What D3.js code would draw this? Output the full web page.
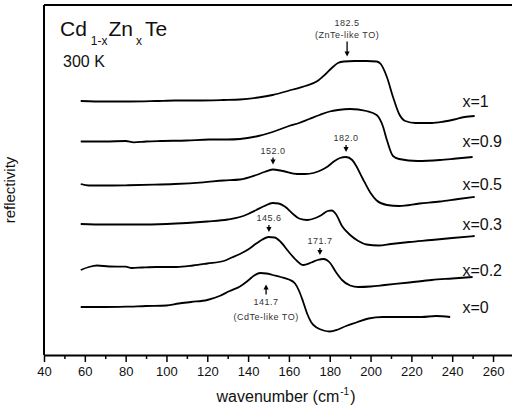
<!DOCTYPE html>
<html>
<head>
<meta charset="utf-8">
<script src="https://cdn.jsdelivr.net/npm/d3@7"></script>
<style>
  html, body { margin: 0; padding: 0; background: #fff; }
  svg { display: block; font-family: "Liberation Sans", Arial, sans-serif; }
</style>
</head>
<body>
<svg id="chart" width="512" height="409"></svg>
<script>
// Reflectivity spectra of Cd(1-x)Zn(x)Te at 300 K, curves stacked with vertical offsets (a.u.)
const seriesNames = ["x=1", "x=0.9", "x=0.5", "x=0.3", "x=0.2", "x=0"];

const wn_x1   = [58,70,82,95,104,115,128,136,145,152,162,168,174,178,181,184,187,192,198,203,205,208,211,214,217,222,230,236,241,246,251];
const refl_x1 = [5.08,5.07,5.07,5.08,5.09,5.09,5.10,5.11,5.15,5.20,5.31,5.38,5.48,5.62,5.74,5.84,5.87,5.88,5.88,5.87,5.82,5.56,5.16,4.82,4.68,4.64,4.64,4.67,4.71,4.76,4.78];

const wn_x09   = [58,70,80,84,90,97,110,121,130,136,145,152,160,165,170,175,180,184,190,198,203,206,208,211,214,223,234,242,250];
const refl_x09 = [4.27,4.27,4.28,4.254,4.27,4.28,4.29,4.31,4.31,4.32,4.38,4.46,4.58,4.64,4.72,4.80,4.87,4.90,4.92,4.88,4.80,4.58,4.30,3.98,3.92,3.88,3.90,3.93,3.96];

const wn_x05   = [58,62,70,80,94,104,118,128,136,144,148,152,157,164,168,172,176,179,182,185,188,191,193,196,200,203,208,214,224,234,243,251];
const refl_x05 = [3.42,3.39,3.39,3.394,3.406,3.42,3.454,3.49,3.51,3.60,3.66,3.71,3.68,3.62,3.62,3.64,3.70,3.77,3.87,3.94,3.96,3.90,3.78,3.54,3.24,3.09,3.00,2.98,3.03,3.07,3.12,3.16];

const wn_x03   = [58,70,85,100,110,120,130,136,140,144,148,152,155,158,162,165,169,173,176,179,181,183,186,190,194,198,204,210,219,230,240,251];
const refl_x03 = [2.62,2.61,2.61,2.62,2.64,2.67,2.71,2.76,2.82,2.90,2.98,3.04,3.03,2.97,2.82,2.73,2.70,2.74,2.80,2.88,2.89,2.82,2.58,2.40,2.28,2.21,2.19,2.22,2.26,2.30,2.34,2.38];

const wn_x02   = [58,62,66,72,80,83,88,95,105,113,120,128,132,136,140,144,147,150,153,156,160,164,167,171,174,177,180,183,186,190,194,200,207,219,230,240,250];
const refl_x02 = [1.70,1.76,1.79,1.77,1.766,1.74,1.75,1.76,1.76,1.79,1.83,1.88,1.95,2.02,2.11,2.23,2.31,2.36,2.35,2.26,2.06,1.88,1.80,1.85,1.90,1.92,1.85,1.66,1.50,1.39,1.36,1.37,1.40,1.45,1.50,1.53,1.56];

const wn_x0   = [58,70,80,90,100,106,112,120,126,131,136,140,143,146,149,152,156,160,163,165,167,169,171,174,177,180,184,188,193,199,206,215,225,232,239];
const refl_x0 = [0.96,0.96,0.966,0.98,0.99,1.03,1.06,1.10,1.18,1.28,1.37,1.49,1.59,1.64,1.63,1.60,1.56,1.51,1.43,1.28,1.06,0.82,0.65,0.54,0.49,0.47,0.51,0.58,0.65,0.73,0.76,0.76,0.76,0.78,0.76];

const wavenumbers = [wn_x1, wn_x09, wn_x05, wn_x03, wn_x02, wn_x0];
const reflectivity = [refl_x1, refl_x09, refl_x05, refl_x03, refl_x02, refl_x0];

// Phonon mode annotations: curve, arrow position (cm^-1), label lines, arrow direction
const peakSeries = ["x=1", "x=0.5", "x=0.5", "x=0.2", "x=0.2", "x=0"];
const peakAt     = [188.5, 152.2, 188, 150.2, 175.2, 148.8];
const peakText   = [["182.5", "(ZnTe-like TO)"], ["152.0"], ["182.0"], ["145.6"], ["171.7"], ["141.7", "(CdTe-like TO)"]];
const peakDir    = ["down", "down", "down", "down", "down", "up"];

const majorTicks = [40, 60, 80, 100, 120, 140, 160, 180, 200, 220, 240, 260];
const minorTicks = [50, 70, 90, 110, 130, 150, 170, 190, 210, 230, 250, 270];

const series = seriesNames.map((name, i) => ({
  name,
  points: d3.zip(wavenumbers[i], reflectivity[i])
}));

const svg = d3.select("#chart");
const W = 512;
const plotLeft = 44, plotTop = 5, plotBottom = 355;

const x = d3.scaleLinear().domain([40, 270]).range([plotLeft, plotLeft + 230 * 2.041]);
const y = d3.scaleLinear().domain([0, 7]).range([plotBottom, plotTop]);

// Frame (top and left edges)
svg.append("line").attr("x1", plotLeft).attr("x2", W).attr("y1", plotTop).attr("y2", plotTop)
  .attr("stroke", "#000").attr("stroke-width", 2);
svg.append("line").attr("x1", plotLeft).attr("x2", plotLeft).attr("y1", plotTop).attr("y2", plotBottom)
  .attr("stroke", "#000").attr("stroke-width", 2);

// Bottom axis: labelled major ticks, short minor ticks
const axisMajor = d3.axisBottom(x).tickValues(majorTicks).tickSize(7).tickPadding(5).tickSizeOuter(0);
const axisMinor = d3.axisBottom(x).tickValues(minorTicks).tickSize(4).tickFormat("").tickSizeOuter(0);

const gMinor = svg.append("g").attr("transform", `translate(0,${plotBottom})`).call(axisMinor);
gMinor.select(".domain").remove();
gMinor.selectAll("line").attr("stroke", "#000").attr("stroke-width", 1.5);

const gAxis = svg.append("g").attr("transform", `translate(0,${plotBottom})`).call(axisMajor);
gAxis.select(".domain").attr("stroke", "#000").attr("stroke-width", 2);
gAxis.selectAll(".tick line").attr("stroke", "#000").attr("stroke-width", 1.5);
gAxis.selectAll(".tick text")
  .attr("font-family", "Liberation Sans, Arial, sans-serif")
  .attr("font-size", 13).attr("fill", "#111");

// Axis titles
const xTitle = svg.append("text").attr("x", 286).attr("y", 402)
  .attr("text-anchor", "middle").attr("font-size", 16).attr("fill", "#111");
xTitle.append("tspan").text("wavenumber (cm");
xTitle.append("tspan").attr("font-size", 10).attr("dy", -7).attr("dx", 1).text("-1");
xTitle.append("tspan").attr("dy", 7).attr("dx", 1).text(")");

svg.append("text").attr("transform", "translate(15,190) rotate(-90)")
  .attr("text-anchor", "middle").attr("font-size", 15).attr("fill", "#111")
  .text("reflectivity");

// Spectra
const line = d3.line().x(d => x(d[0])).y(d => y(d[1])).curve(d3.curveMonotoneX);
svg.append("g").selectAll("path").data(series).join("path")
  .attr("d", d => line(d.points))
  .attr("fill", "none").attr("stroke", "#000").attr("stroke-width", 1.8)
  .attr("stroke-linejoin", "round");

// Composition labels, level with each curve's low-frequency baseline
svg.append("g").selectAll("text").data(series).join("text")
  .attr("x", x(245))
  .attr("y", d => y(d.points[0][1]))
  .attr("dominant-baseline", "central")
  .attr("font-size", 16).attr("fill", "#111")
  .text(d => d.name);

// Sample title
const title = svg.append("text").attr("x", 60).attr("y", 36).attr("font-size", 21).attr("fill", "#111");
title.append("tspan").text("Cd");
title.append("tspan").attr("font-size", 12).attr("dx", 4).attr("dy", 9).text("1-x");
title.append("tspan").attr("dx", 1).attr("dy", -9).text("Zn");
title.append("tspan").attr("font-size", 12).attr("dx", 3).attr("dy", 9).text("x");
title.append("tspan").attr("dx", 3).attr("dy", -9).text("Te");
svg.append("text").attr("x", 63).attr("y", 67).attr("font-size", 16).attr("fill", "#111").text("300 K");

// Peak arrows and labels
const peaks = peakAt.map((at, i) => {
  const s = series.find(d => d.name === peakSeries[i]);
  const nearest = d3.least(s.points, p => Math.abs(p[0] - at));
  return { at, text: peakText[i], dir: peakDir[i], level: nearest[1] };
});

const gPeaks = svg.append("g");
peaks.forEach(p => {
  const px = x(p.at);
  const cy = y(p.level);
  const g = gPeaks.append("g");
  if (p.dir === "down") {
    const tip = cy - 5;
    const len = p.text.length > 1 ? 15 : 7;
    const topY = tip - len;
    g.append("line").attr("x1", px).attr("x2", px).attr("y1", topY).attr("y2", tip - 4)
      .attr("stroke", "#000").attr("stroke-width", 1.3);
    g.append("path").attr("d", `M${px - 2.6},${tip - 5}L${px + 2.6},${tip - 5}L${px},${tip}Z`).attr("fill", "#000");
    p.text.slice().reverse().forEach((t, k) => {
      g.append("text").attr("x", px).attr("y", topY - 4 - k * 12)
        .attr("text-anchor", "middle").attr("font-size", 9).attr("letter-spacing", 0.5)
        .attr("fill", "#333").text(t);
    });
  } else {
    const tip = cy + 11;
    const len = 10;
    const botY = tip + len;
    g.append("line").attr("x1", px).attr("x2", px).attr("y1", tip + 4).attr("y2", botY)
      .attr("stroke", "#000").attr("stroke-width", 1.3);
    g.append("path").attr("d", `M${px - 2.6},${tip + 5}L${px + 2.6},${tip + 5}L${px},${tip}Z`).attr("fill", "#000");
    p.text.forEach((t, k) => {
      g.append("text").attr("x", px).attr("y", botY + 10 + k * 15)
        .attr("text-anchor", "middle").attr("font-size", 9).attr("letter-spacing", 0.5)
        .attr("fill", "#333").text(t);
    });
  }
});
</script>
</body>
</html>
